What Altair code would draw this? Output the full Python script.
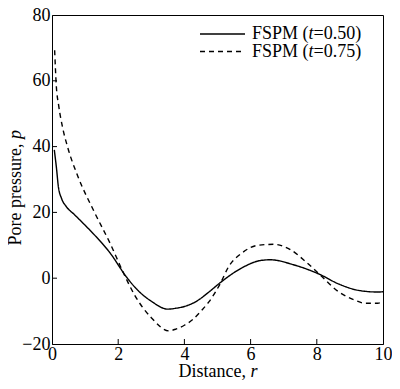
import altair as alt
import pandas as pd

# ---- data ----
r_t050 = [0.07, 0.14, 0.19, 0.29, 0.43, 0.68, 0.97, 1.26, 1.76, 2.24, 2.5, 3.0, 3.5, 3.76,
          4.0, 4.35, 4.74, 5.09, 5.73, 6.31, 6.6, 7.29, 8.08, 8.67, 9.26, 9.84, 10.0]
p_t050 = [39, 33, 28, 24.2, 21.8, 19.3, 16.4, 13.4, 7.6, 0.5, -2.7, -7, -9.4, -9.1,
          -8.6, -7.1, -4.2, -1.3, 3.1, 5.4, 5.6, 4.1, 1.2, -1.8, -3.7, -4.2, -4.1]

r_t075 = [0.08, 0.13, 0.2, 0.32, 0.47, 0.78, 1.27, 1.76, 2.15, 2.5, 3.0, 3.53, 3.76, 4.0,
          4.26, 4.5, 4.74, 5.09, 5.33, 5.73, 6.22, 6.71, 7.2, 7.69, 8.08, 8.67, 9.16, 9.45,
          9.84, 10.0]
p_t075 = [69.3, 58.5, 52.6, 45.8, 39.9, 31, 20.3, 10.5, 1.8, -5.2, -12, -16, -15.4, -14.3,
          -12.5, -10, -7.2, -1.5, 3.4, 7.6, 10, 10.3, 8.7, 4.8, 1.2, -4.2, -6.7, -7.6,
          -7.6, -7.2]

series_names = ["FSPM (t=0.50)", "FSPM (t=0.75)"]
x_tick_values = [0, 2, 4, 6, 8, 10]
y_tick_values = [-20, 0, 20, 40, 60, 80]
x_inner_ticks = [2, 4, 6, 8]
y_inner_ticks = [0, 20, 40, 60]

W, H = 331, 329
FONT = "Liberation Serif"
FS = 18

df = pd.concat([
    pd.DataFrame({"r": r_t050, "p": p_t050, "series": series_names[0]}),
    pd.DataFrame({"r": r_t075, "p": p_t075, "series": series_names[1]}),
], ignore_index=True)

x_scale = alt.Scale(domain=[0, 10], nice=False, zero=False)
y_scale = alt.Scale(domain=[-20, 80], nice=False, zero=False)
x_axis = alt.Axis(values=x_tick_values, title=None, labelPadding=1, format="d")
y_axis = alt.Axis(values=y_tick_values, title=None, labelPadding=2, format="d")

lines = alt.Chart(df).mark_line(interpolate="monotone", strokeWidth=1.4, color="black").encode(
    x=alt.X("r:Q", scale=x_scale, axis=x_axis),
    y=alt.Y("p:Q", scale=y_scale, axis=y_axis),
    strokeDash=alt.StrokeDash("series:N",
                              scale=alt.Scale(domain=series_names, range=[[1, 0], [5, 4]]),
                              legend=None),
    detail="series:N",
)

xt = alt.Chart(pd.DataFrame({"r": x_inner_ticks})).mark_rule(color="black", strokeWidth=1).encode(
    x=alt.X("r:Q", scale=x_scale, axis=x_axis),
    y=alt.value(H), y2=alt.value(H - 5),
)
yt = alt.Chart(pd.DataFrame({"p": y_inner_ticks})).mark_rule(color="black", strokeWidth=1).encode(
    y=alt.Y("p:Q", scale=y_scale, axis=y_axis),
    x=alt.value(0), x2=alt.value(5),
)

one = pd.DataFrame({"k": [0]})


def txt(s, x, y, italic=False, align="left", angle=0, baseline="middle"):
    return alt.Chart(one).mark_text(
        text=s, font=FONT, fontSize=FS, fontStyle="italic" if italic else "normal",
        align=align, baseline=baseline, angle=angle, color="black",
    ).encode(x=alt.value(x), y=alt.value(y))


# legend (drawn manually to allow italic t)
L1, L2 = 19, 36.5
leg_line1 = alt.Chart(one).mark_rule(color="black", strokeWidth=1.4).encode(
    x=alt.value(148), x2=alt.value(193), y=alt.value(L1))
leg_line2 = alt.Chart(one).mark_rule(color="black", strokeWidth=1.4, strokeDash=[5, 4]).encode(
    x=alt.value(148), x2=alt.value(193), y=alt.value(L2))

TX = 200
legend_texts = []
for yy, val in [(L1, "=0.50)"), (L2, "=0.75)")]:
    legend_texts += [
        txt("FSPM (", TX, yy),
        txt("t", TX + 56.5, yy, italic=True),
        txt(val, TX + 61.5, yy),
    ]

# axis titles (italic variable names)
x_title = [txt("Distance,", 194, H + 33, baseline="alphabetic", align="right"),
           txt("r", 198.5, H + 33, italic=True, baseline="alphabetic", align="left")]
y_title = [txt("Pore pressure,", -31, 128.5, angle=270, baseline="alphabetic", align="right"),
           txt("p", -31, 124, italic=True, angle=270, baseline="alphabetic", align="left")]

chart = alt.layer(
    lines, xt, yt, leg_line1, leg_line2, *legend_texts, *x_title, *y_title
).properties(
    width=W, height=H,
    padding={"left": 44, "top": 7, "right": 9, "bottom": 37},
    autosize=alt.AutoSizeParams(type="none"),
).configure_view(
    stroke="black", strokeWidth=1,
).configure_axis(
    domainColor="black", domainWidth=1, ticks=False, tickSize=0, grid=False,
    labelFont=FONT, labelFontSize=FS, labelColor="black",
    labelFlush=False, labelOverlap=False,
)

chart.save("out.html", embed_options={"renderer": "svg", "actions": False})
